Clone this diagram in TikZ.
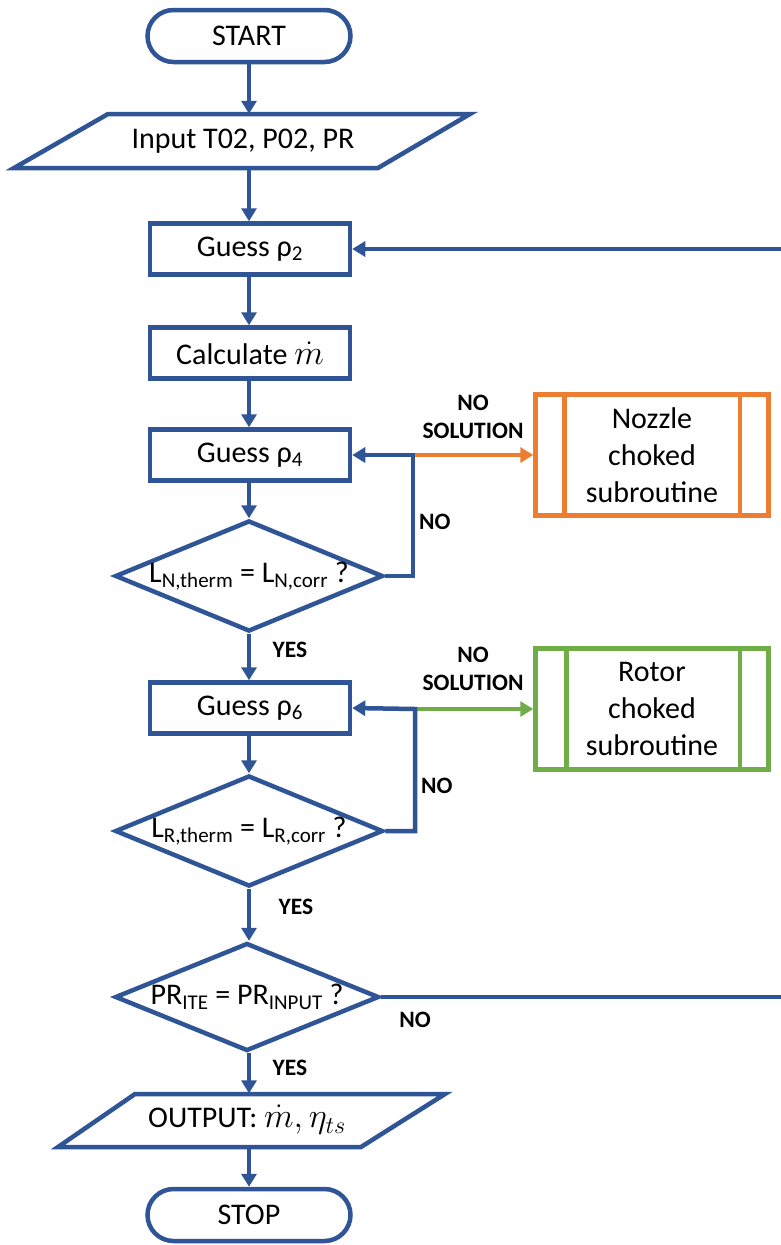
\RequirePackage{fix-cm}
\documentclass[tikz,border=0pt]{standalone}
\usepackage{fontspec}
\setmainfont{Carlito}
\usetikzlibrary{arrows.meta,shapes.geometric,shapes.misc}
\definecolor{fblue}{HTML}{2F5597}
\definecolor{forange}{HTML}{ED7D31}
\definecolor{fgreen}{HTML}{70AD47}
\begin{document}
\begin{tikzpicture}[x=1pt,y=-1pt,
  txt/.style={font=\fontsize{30}{37}\selectfont, text=black},
  lbl/.style={font=\fontsize{23.5}{28}\selectfont\bfseries, text=black, align=center, inner sep=0pt},
  shp/.style={draw=fblue, line width=4.5pt, line join=miter},
  term/.style={shp, txt, rounded rectangle, minimum width=203pt, minimum height=52pt, inner sep=0pt},
  procbox/.style={shp, txt, rectangle, minimum width=200pt, minimum height=51pt, inner sep=0pt},
  decide/.style={shp, txt, diamond, aspect=2.4, minimum width=268pt, minimum height=111pt, inner sep=0pt},
  subr/.style={line width=4.5pt, txt, rectangle, minimum width=233pt, minimum height=121pt, align=center, inner sep=0pt},
  arr/.style={draw=fblue, line width=4.5pt, -{Triangle[width=15pt,length=13pt]}},
  ln/.style={draw=fblue, line width=4.5pt}
]
\clip (0,0) rectangle (781,1245);
\fill[white] (0,0) rectangle (781,1245);

% nodes
\node[term] (start) at (249,36) {START};
\draw[shp] (108,114) -- (470,114) -- (378,168) -- (14,168) -- cycle;
\node[txt, minimum height=54pt, inner sep=0pt] (in) at (243,141) {Input T02, P02, PR};
\node[procbox] (g2) at (250,249) {Guess ρ\textsubscript{2}};
\node[procbox] (calc) at (250,353) {Calculate \scalebox{1.15}{$\dot{m}$}};
\node[procbox] (g4) at (250,455) {Guess ρ\textsubscript{4}};
\node[decide] (d1) at (249,576) {L\textsubscript{N,therm} = L\textsubscript{N,corr} ?};
\node[procbox] (g6) at (250,708) {Guess ρ\textsubscript{6}};
\node[decide] (d2) at (249,831) {L\textsubscript{R,therm} = L\textsubscript{R,corr} ?};
\node[decide, minimum width=264pt, minimum height=108pt] (d3) at (247,997) {PR\textsubscript{ITE} = PR\textsubscript{INPUT} ?};
\draw[shp] (135,1094) -- (445,1094) -- (361,1147) -- (58,1147) -- cycle;
\node[txt, minimum height=53pt, inner sep=0pt] (out) at (247,1120) {OUTPUT: \scalebox{1.15}{$\dot{m}, \eta_{ts}$}};
\node[term] (stop) at (249,1215) {STOP};

\node[subr, draw=forange] (nz) at (652,455) {Nozzle\\choked\\subroutine};
\draw[line width=4.5pt, forange] ([xshift=31pt]nz.north west) -- ([xshift=31pt]nz.south west);
\draw[line width=4.5pt, forange] ([xshift=-31pt]nz.north east) -- ([xshift=-31pt]nz.south east);
\node[subr, draw=fgreen] (rt) at (652,709) {Rotor\\choked\\subroutine};
\draw[line width=4.5pt, fgreen] ([xshift=33pt]rt.north west) -- ([xshift=33pt]rt.south west);
\draw[line width=4.5pt, fgreen] ([xshift=-31pt]rt.north east) -- ([xshift=-31pt]rt.south east);

% main flow
\draw[arr] (start.south) -- (start.south |- in.north);
\draw[arr] (start.south |- in.south) -- (g2.north -| start.south);
\draw[arr] (g2.south -| start.south) -- (calc.north -| start.south);
\draw[arr] (calc.south -| start.south) -- (g4.north -| start.south);
\draw[arr] (g4.south -| start.south) -- (d1.north -| start.south);
\draw[arr] (d1.south -| start.south) -- (g6.north -| start.south);
\draw[arr] (g6.south -| start.south) -- (d2.north -| start.south);
\draw[arr] (d2.south -| start.south) -- (d3.north -| start.south);
\draw[arr] (d3.south -| start.south) -- (start.south |- out.north);
\draw[arr] (start.south |- out.south) -- (stop.north);

% loops
\coordinate (j1) at (413,455);
\coordinate (j2) at (415,709);
\coordinate (j3) at (790,997);
\draw[line width=4.5pt, forange, -{Triangle[width=15pt,length=13pt]}] (j1) -- (nz.west);
\draw[line width=4.5pt, fgreen, -{Triangle[width=15pt,length=13pt]}] (j2) -- (rt.west);
\draw[arr, line join=miter] (d1.east) -| (j1) -- (g4.east);
\draw[arr, line join=miter] (d2.east) -| (j2) -- (g6.east);
\draw[arr, line join=miter] (d3.east) -- (j3) |- (g2.east);

% labels
\node[lbl] (s1) at (473,417) {NO\\SOLUTION};
\node[lbl, anchor=west] (n1) at (419,522) {NO};
\node[lbl] (y1) at (290,650) {YES};
\node[lbl] (s2) at (473,669) {NO\\SOLUTION};
\node[lbl, anchor=west] (n2) at (421,786) {NO};
\node[lbl] (y2) at (296,907) {YES};
\node[lbl] (n3) at (415,1020) {NO};
\node[lbl] (y3) at (290,1068) {YES};
\end{tikzpicture}
\end{document}
